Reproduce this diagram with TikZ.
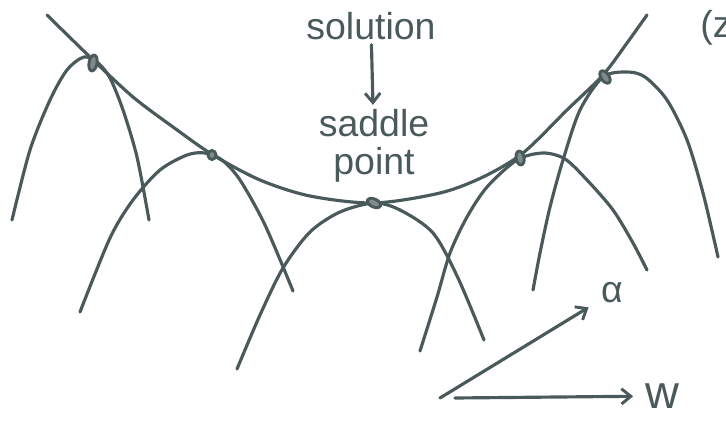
\documentclass[tikz,border=0pt]{standalone}
\usepackage{fontspec}
\setmainfont{Liberation Sans}
\usepackage{xcolor}
\usepackage{tikz}
\usetikzlibrary{arrows.meta,positioning}

\definecolor{ink}{HTML}{4A5A5A}

\begin{document}
\begin{tikzpicture}[
x=0.03cm, y=-0.03cm,
curve/.style={draw=ink, line width=2.7pt, line cap=round, line join=round},
dot/.style={draw=ink, line width=2.5pt, fill=ink!70},
lbl/.style={text=ink, font=\fontsize{32}{32}\selectfont, align=center, inner sep=2pt},
axis/.style={curve, -{Straight Barb[length=8pt, width=13pt, line width=2.5pt]}}
]
\useasboundingbox (0,0) rectangle (726,429);

% envelope
\draw[curve] plot[smooth] coordinates {(47,15) (90,57) (133,97) (173,127) (213,155) (260,180) (310,196) (374,203) (440,193) (483,177) (523,153) (567,110) (603,75) (627,43) (647,15)};

% parabolas
\draw[curve] plot[smooth] coordinates {(12,220) (30,150) (50,100) (67,70) (84,57) (98,63) (110,78) (123,110) (137,157) (149,220)};
\draw[curve] plot[smooth] coordinates {(80,312) (110,238) (133,200) (160,170) (187,155) (205,153) (222,160) (240,180) (265,225) (293,291)};
\draw[curve] plot[smooth] coordinates {(237,369) (260,315) (283,268) (310,232) (340,212) (374,203) (400,210) (433,233) (458,278) (484,340)};
\draw[curve] plot[smooth] coordinates {(420,351) (437,297) (450,253) (467,217) (487,187) (517,160) (543,153) (565,159) (587,180) (613,210) (633,243) (647,270)};
\draw[curve] plot[smooth] coordinates {(533,290) (540,253) (550,207) (563,160) (580,110) (603,77) (627,72) (645,77) (667,100) (687,140) (703,193) (718,257)};

% touching points
\coordinate (t1) at (93,63);
\coordinate (t2) at (212,155);
\coordinate (t3) at (374,203);
\coordinate (t4) at (520,158);
\coordinate (t5) at (605,77);
\draw[dot, rotate around={-10:(t1)}] (t1) ellipse [x radius=4, y radius=8];
\draw[dot] (t2) ellipse [x radius=4, y radius=4.5];
\draw[dot, rotate around={-25:(t3)}] (t3) ellipse [x radius=7, y radius=4];
\draw[dot, rotate around={10:(t4)}] (t4) ellipse [x radius=4, y radius=7];
\draw[dot, rotate around={35:(t5)}] (t5) ellipse [x radius=4, y radius=7];

% labels
\node[lbl] (solution) at (371,26) {solution};
\node[lbl] (saddle) at (374,146) {saddle\\point};
\draw[axis, shorten <=2pt, shorten >=2pt] (solution) -- (saddle);

\node[lbl] (cut) at (716,28) {(z};

% axes
\coordinate (orig) at (440,398);
\coordinate (wstart) at (455,398);
\node[lbl] (alpha) at (612,293) {α};
\node[lbl, font=\fontsize{40}{40}\selectfont] (w) at (662,396) {w};
\draw[axis, shorten >=10pt] (orig) -- (alpha);
\draw[axis, shorten >=8pt] (wstart) -- (w);
\end{tikzpicture}
\end{document}
